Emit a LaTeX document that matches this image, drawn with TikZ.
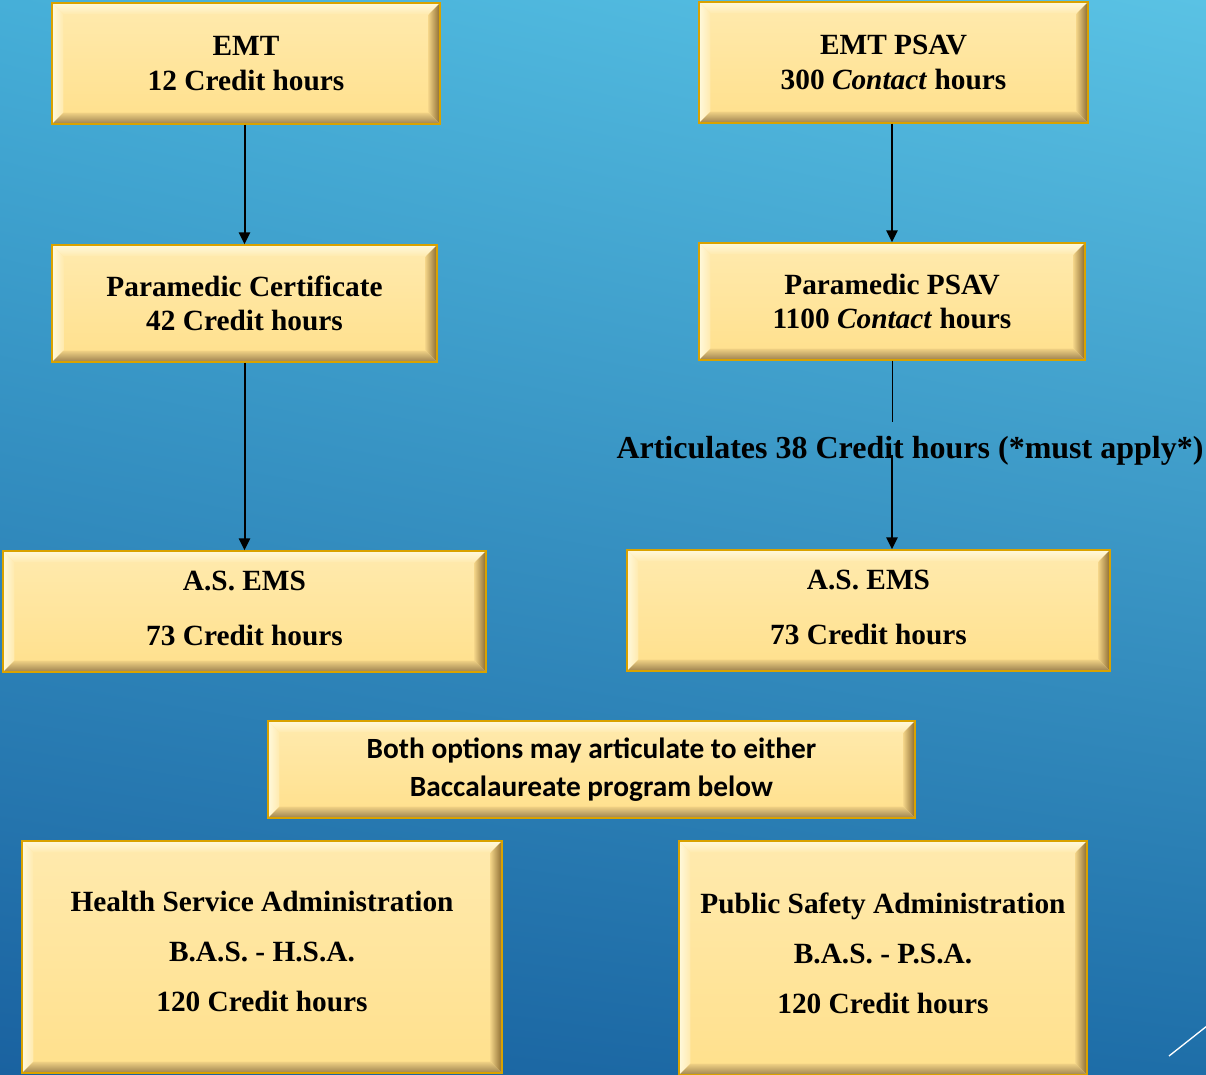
\documentclass[tikz,border=0pt]{standalone}
\usepackage{fontspec}
\setmainfont{Liberation Serif}
\newfontfamily\calibri{Carlito}
\usetikzlibrary{arrows.meta,shadings}

\definecolor{bgTL}{HTML}{46AFD8}
\definecolor{bgTR}{HTML}{5AC2E4}
\definecolor{bgBL}{HTML}{1A62A0}
\definecolor{bgBR}{HTML}{1E6EA8}
\definecolor{tiletop}{HTML}{FFEAAE}
\definecolor{tilebot}{HTML}{FFE08C}
\definecolor{tileline}{HTML}{D9A200}
\definecolor{tilehi}{HTML}{FFF9DC}
\definecolor{tiledark}{HTML}{8A6A30}
\definecolor{tilemid}{HTML}{EFD084}

\newdimen\px \px=0.75pt
\newcommand{\bev}{8.5pt}

\tikzset{
  tile/.style={draw=tileline, line width=1.1pt, top color=tiletop, bottom color=tilebot,
    align=center, inner sep=0pt, font=\bfseries\fontsize{22}{26}\selectfont,
    path picture={
      \coordinate (tNW) at (path picture bounding box.north west);
      \coordinate (tNE) at (path picture bounding box.north east);
      \coordinate (tSW) at (path picture bounding box.south west);
      \coordinate (tSE) at (path picture bounding box.south east);
      % bevel, top and left lit, right and bottom in shadow
      \shade[top color=tilehi, bottom color=tiletop]
        (tNW) -- (tNE) -- ([shift={(-\bev,-\bev)}]tNE) -- ([shift={(\bev,-\bev)}]tNW) -- cycle;
      \shade[left color=tilehi, right color=tiletop]
        (tNW) -- ([shift={(\bev,-\bev)}]tNW) -- ([shift={(\bev,\bev)}]tSW) -- (tSW) -- cycle;
      \shade[left color=tilemid, right color=tiledark]
        (tNE) -- (tSE) -- ([shift={(-\bev,\bev)}]tSE) -- ([shift={(-\bev,-\bev)}]tNE) -- cycle;
      \shade[top color=tilemid, bottom color=tiledark!85]
        (tSW) -- ([shift={(\bev,\bev)}]tSW) -- ([shift={(-\bev,\bev)}]tSE) -- (tSE) -- cycle;
    }},
  flow/.style={line width=1.5pt, -{Triangle[width=8.5pt,length=9pt]}},
  hairline/.style={line width=0.75pt},
}

\begin{document}
\begin{tikzpicture}[x=0.75pt, y=-0.75pt]
  \useasboundingbox (0,0) rectangle (1206,1074);
  \clip (0,0) rectangle (1206,1074);
  \shade[upper left=bgTL, upper right=bgTR, lower left=bgBL, lower right=bgBR]
    (0,0) rectangle (1206,1074);
  \draw[white, line width=1pt] (1169,1056) -- (1212,1022);

  % left column
  \node[tile, minimum width=388\px, minimum height=121\px] (emt) at (246,63.5)
    {EMT\\12 Credit hours};
  \node[tile, minimum width=385\px, minimum height=117\px] (paracert) at (244.5,303.5)
    {Paramedic Certificate\\42 Credit hours};
  \node[tile, minimum width=483\px, minimum height=121\px, text depth=4.5pt] (asleft) at (244.5,611.5)
    {A.S. EMS\\[15pt]73 Credit hours};

  % right column
  \node[tile, minimum width=389\px, minimum height=121\px] (emtpsav) at (893.5,62.5)
    {EMT PSAV\\300 \textit{Contact} hours};
  \node[tile, minimum width=386\px, minimum height=117\px] (parapsav) at (892,301.5)
    {Paramedic PSAV\\1100 \textit{Contact} hours};
  \node[tile, minimum width=483\px, minimum height=121\px, text depth=4.5pt] (asright) at (868.5,610.5)
    {A.S. EMS\\[15pt]73 Credit hours};
  \node[font=\bfseries\fontsize{24}{28}\selectfont] (artic) at (910,451)
    {Articulates 38 Credit hours (*must apply*)};

  % baccalaureate
  \node[tile, minimum width=647\px, minimum height=97\px,
    font=\calibri\bfseries\fontsize{22}{29}\selectfont] (both) at (591.5,769.5)
    {Both options may articulate to either\\Baccalaureate program below};
  \node[tile, minimum width=480\px, minimum height=232\px, text depth=9pt,
    font=\bfseries\fontsize{22}{37.5}\selectfont] (hsa) at (262,957)
    {Health Service Administration\\B.A.S. - H.S.A.\\120 Credit hours};
  \node[tile, minimum width=408\px, minimum height=234\px, text depth=7.5pt,
    font=\bfseries\fontsize{22}{37.5}\selectfont] (psa) at (883,958)
    {Public Safety Administration\\B.A.S. - P.S.A.\\120 Credit hours};

  \coordinate (gapTop) at (892,422);
  \coordinate (gapBot) at (892,455);

  \draw[flow] (paracert.north |- emt.south) -- (paracert.north);
  \draw[flow] (paracert.south) -- (paracert.south |- asleft.north);
  \draw[flow] (parapsav.north |- emtpsav.south) -- (parapsav.north);
  \draw[hairline] (parapsav.south) -- (gapTop);
  \draw[flow] (gapBot) -- (gapBot |- asright.north);
\end{tikzpicture}
\end{document}
